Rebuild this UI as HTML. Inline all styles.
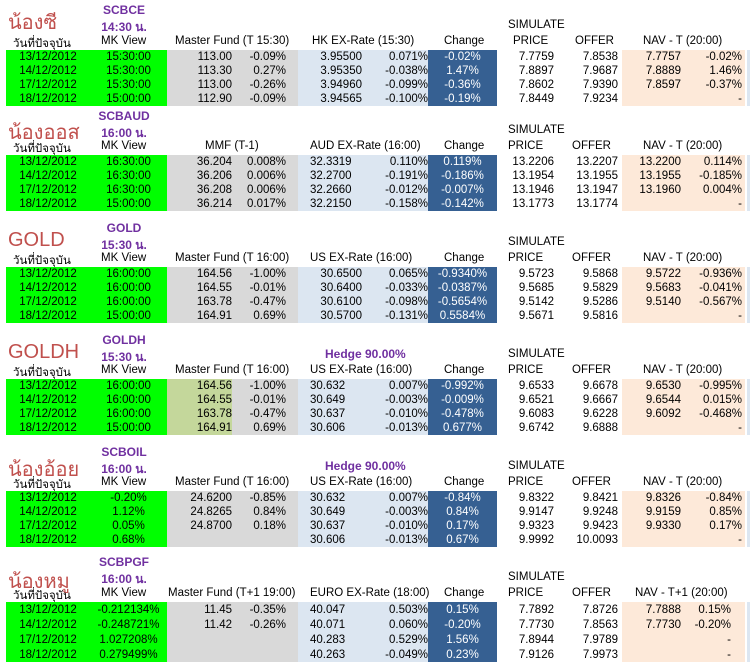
<!DOCTYPE html>
<html><head><meta charset="utf-8"><style>
body{margin:0;width:750px;height:668px;background:#fff;position:relative;overflow:hidden;font-family:"Liberation Sans","Noto Sans CJK SC",sans-serif;font-size:11.5px;color:#000}
.a{position:absolute;white-space:nowrap}
table{position:absolute;left:6px;border-collapse:collapse;table-layout:fixed;width:739px}
td{height:14px;line-height:14px;padding:0;white-space:nowrap;overflow:hidden}
.g{background:#00ff00;text-align:center}
.y{background:#d9d9d9;text-align:right}
.o{background:#c4d79b;text-align:right}
.l{background:#dce6f1;text-align:right}
.ll{background:#dce6f1;text-align:left;padding-left:12px}
.d{background:#366092;color:#fff;text-align:center}
.w{text-align:right}
.p{background:#fde9d9;text-align:right}
.t{color:#c0504d;font-size:20px;font-family:"Liberation Sans","Noto Sans CJK SC",sans-serif}
.c{color:#7030a0;font-weight:bold;font-size:12px;width:80px;text-align:center;left:84px}
.h{width:0}
.strip{position:absolute;left:747px;width:3px;background:#dce6f1}
</style></head><body>
<!-- S1 -->
<div class="a t" style="left:8px;top:6px">น้องซี</div>
<div class="a c" style="top:3px">SCBCE</div>
<div class="a c" style="top:18px">14:30 น.</div>
<div class="a" style="left:508px;top:19px">SIMULATE</div>
<div class="a" style="left:13px;top:35px">วันที่ปัจจุบัน</div>
<div class="a" style="left:101px;top:35px">MK View</div>
<div class="a" style="left:175px;top:35px">Master Fund (T 15:30)</div>
<div class="a" style="left:312px;top:35px">HK EX-Rate (15:30)</div>
<div class="a" style="left:444px;top:35px">Change</div>
<div class="a" style="left:513px;top:35px">PRICE</div>
<div class="a" style="left:575px;top:35px">OFFER</div>
<div class="a" style="left:643px;top:35px">NAV - T (20:00)</div>
<table style="top:50px"><colgroup><col style="width:84px"><col style="width:77px"><col style="width:65px"><col style="width:66px"><col style="width:64px"><col style="width:66px"><col style="width:69px"><col style="width:57px"><col style="width:68px"><col style="width:59px"><col style="width:64px"></colgroup>
<tr><td class="g">13/12/2012</td><td class="g">15:30:00</td><td class="y">113.00</td><td class="y" style="padding-right:12px">-0.09%</td><td class="l">3.95500</td><td class="l">0.071%</td><td class="d">-0.02%</td><td class="w">7.7759</td><td class="w" style="padding-right:4px">7.8538</td><td class="p">7.7757</td><td class="p" style="padding-right:3px">-0.02%</td></tr>
<tr><td class="g">14/12/2012</td><td class="g">15:30:00</td><td class="y">113.30</td><td class="y" style="padding-right:12px">0.27%</td><td class="l">3.95350</td><td class="l">-0.038%</td><td class="d">1.47%</td><td class="w">7.8897</td><td class="w" style="padding-right:4px">7.9687</td><td class="p">7.8889</td><td class="p" style="padding-right:3px">1.46%</td></tr>
<tr><td class="g">17/12/2012</td><td class="g">15:30:00</td><td class="y">113.00</td><td class="y" style="padding-right:12px">-0.26%</td><td class="l">3.94960</td><td class="l">-0.099%</td><td class="d">-0.36%</td><td class="w">7.8602</td><td class="w" style="padding-right:4px">7.9390</td><td class="p">7.8597</td><td class="p" style="padding-right:3px">-0.37%</td></tr>
<tr><td class="g">18/12/2012</td><td class="g">15:00:00</td><td class="y">112.90</td><td class="y" style="padding-right:12px">-0.09%</td><td class="l">3.94565</td><td class="l">-0.100%</td><td class="d">-0.19%</td><td class="w">7.8449</td><td class="w" style="padding-right:4px">7.9234</td><td class="p"></td><td class="p" style="padding-right:3px">-</td></tr>
</table>
<div class="strip" style="top:50px;height:56px"></div>

<!-- S2 -->
<div class="a t" style="left:8px;top:116px">น้องออส</div>
<div class="a c" style="top:109px">SCBAUD</div>
<div class="a c" style="top:124px">16:00 น.</div>
<div class="a" style="left:508px;top:124px">SIMULATE</div>
<div class="a" style="left:13px;top:140px">วันที่ปัจจุบัน</div>
<div class="a" style="left:101px;top:140px">MK View</div>
<div class="a" style="left:205px;top:140px">MMF (T-1)</div>
<div class="a" style="left:310px;top:140px">AUD EX-Rate (16:00)</div>
<div class="a" style="left:444px;top:140px">Change</div>
<div class="a" style="left:508px;top:140px">PRICE</div>
<div class="a" style="left:572px;top:140px">OFFER</div>
<div class="a" style="left:643px;top:140px">NAV - T (20:00)</div>
<table style="top:155px"><colgroup><col style="width:84px"><col style="width:77px"><col style="width:65px"><col style="width:66px"><col style="width:64px"><col style="width:66px"><col style="width:69px"><col style="width:57px"><col style="width:68px"><col style="width:59px"><col style="width:64px"></colgroup>
<tr><td class="g">13/12/2012</td><td class="g">16:30:00</td><td class="y">36.204</td><td class="y" style="padding-right:12px">0.008%</td><td class="ll">32.3319</td><td class="l">0.110%</td><td class="d">0.119%</td><td class="w">13.2206</td><td class="w" style="padding-right:4px">13.2207</td><td class="p">13.2200</td><td class="p" style="padding-right:3px">0.114%</td></tr>
<tr><td class="g">14/12/2012</td><td class="g">16:30:00</td><td class="y">36.206</td><td class="y" style="padding-right:12px">0.006%</td><td class="ll">32.2700</td><td class="l">-0.191%</td><td class="d">-0.186%</td><td class="w">13.1954</td><td class="w" style="padding-right:4px">13.1955</td><td class="p">13.1955</td><td class="p" style="padding-right:3px">-0.185%</td></tr>
<tr><td class="g">17/12/2012</td><td class="g">16:30:00</td><td class="y">36.208</td><td class="y" style="padding-right:12px">0.006%</td><td class="ll">32.2660</td><td class="l">-0.012%</td><td class="d">-0.007%</td><td class="w">13.1946</td><td class="w" style="padding-right:4px">13.1947</td><td class="p">13.1960</td><td class="p" style="padding-right:3px">0.004%</td></tr>
<tr><td class="g">18/12/2012</td><td class="g">15:00:00</td><td class="y">36.214</td><td class="y" style="padding-right:12px">0.017%</td><td class="ll">32.2150</td><td class="l">-0.158%</td><td class="d">-0.142%</td><td class="w">13.1773</td><td class="w" style="padding-right:4px">13.1774</td><td class="p"></td><td class="p" style="padding-right:3px">-</td></tr>
</table>
<div class="strip" style="top:155px;height:56px"></div>

<!-- S3 -->
<div class="a t" style="left:8px;top:229px">GOLD</div>
<div class="a c" style="top:221px">GOLD</div>
<div class="a c" style="top:236px">15:30 น.</div>
<div class="a" style="left:508px;top:236px">SIMULATE</div>
<div class="a" style="left:13px;top:252px">วันที่ปัจจุบัน</div>
<div class="a" style="left:101px;top:252px">MK View</div>
<div class="a" style="left:175px;top:252px">Master Fund (T 16:00)</div>
<div class="a" style="left:310px;top:252px">US EX-Rate (16:00)</div>
<div class="a" style="left:444px;top:252px">Change</div>
<div class="a" style="left:508px;top:252px">PRICE</div>
<div class="a" style="left:572px;top:252px">OFFER</div>
<div class="a" style="left:643px;top:252px">NAV - T (20:00)</div>
<table style="top:267px"><colgroup><col style="width:84px"><col style="width:77px"><col style="width:65px"><col style="width:66px"><col style="width:64px"><col style="width:66px"><col style="width:69px"><col style="width:57px"><col style="width:68px"><col style="width:59px"><col style="width:64px"></colgroup>
<tr><td class="g">13/12/2012</td><td class="g">16:00:00</td><td class="y">164.56</td><td class="y" style="padding-right:12px">-1.00%</td><td class="l">30.6500</td><td class="l">0.065%</td><td class="d">-0.9340%</td><td class="w">9.5723</td><td class="w" style="padding-right:4px">9.5868</td><td class="p">9.5722</td><td class="p" style="padding-right:3px">-0.936%</td></tr>
<tr><td class="g">14/12/2012</td><td class="g">16:00:00</td><td class="y">164.55</td><td class="y" style="padding-right:12px">-0.01%</td><td class="l">30.6400</td><td class="l">-0.033%</td><td class="d">-0.0387%</td><td class="w">9.5685</td><td class="w" style="padding-right:4px">9.5829</td><td class="p">9.5683</td><td class="p" style="padding-right:3px">-0.041%</td></tr>
<tr><td class="g">17/12/2012</td><td class="g">16:00:00</td><td class="y">163.78</td><td class="y" style="padding-right:12px">-0.47%</td><td class="l">30.6100</td><td class="l">-0.098%</td><td class="d">-0.5654%</td><td class="w">9.5142</td><td class="w" style="padding-right:4px">9.5286</td><td class="p">9.5140</td><td class="p" style="padding-right:3px">-0.567%</td></tr>
<tr><td class="g">18/12/2012</td><td class="g">15:00:00</td><td class="y">164.91</td><td class="y" style="padding-right:12px">0.69%</td><td class="l">30.5700</td><td class="l">-0.131%</td><td class="d">0.5584%</td><td class="w">9.5671</td><td class="w" style="padding-right:4px">9.5816</td><td class="p"></td><td class="p" style="padding-right:3px">-</td></tr>
</table>
<div class="strip" style="top:267px;height:56px"></div>

<!-- S4 -->
<div class="a t" style="left:8px;top:341px">GOLDH</div>
<div class="a c" style="top:333px">GOLDH</div>
<div class="a c" style="top:348px">15:30 น.</div>
<div class="a" style="left:325px;top:347px;color:#7030a0;font-weight:bold;font-size:12px">Hedge 90.00%</div>
<div class="a" style="left:508px;top:348px">SIMULATE</div>
<div class="a" style="left:13px;top:364px">วันที่ปัจจุบัน</div>
<div class="a" style="left:101px;top:364px">MK View</div>
<div class="a" style="left:175px;top:364px">Master Fund (T 16:00)</div>
<div class="a" style="left:310px;top:364px">US EX-Rate (16:00)</div>
<div class="a" style="left:444px;top:364px">Change</div>
<div class="a" style="left:508px;top:364px">PRICE</div>
<div class="a" style="left:572px;top:364px">OFFER</div>
<div class="a" style="left:643px;top:364px">NAV - T (20:00)</div>
<table style="top:379px"><colgroup><col style="width:84px"><col style="width:77px"><col style="width:65px"><col style="width:66px"><col style="width:64px"><col style="width:66px"><col style="width:69px"><col style="width:57px"><col style="width:68px"><col style="width:59px"><col style="width:64px"></colgroup>
<tr><td class="g">13/12/2012</td><td class="g">16:00:00</td><td class="o">164.56</td><td class="y" style="padding-right:12px">-1.00%</td><td class="ll">30.632</td><td class="l">0.007%</td><td class="d">-0.992%</td><td class="w">9.6533</td><td class="w" style="padding-right:4px">9.6678</td><td class="p">9.6530</td><td class="p" style="padding-right:3px">-0.995%</td></tr>
<tr><td class="g">14/12/2012</td><td class="g">16:00:00</td><td class="o">164.55</td><td class="y" style="padding-right:12px">-0.01%</td><td class="ll">30.649</td><td class="l">-0.003%</td><td class="d">-0.009%</td><td class="w">9.6521</td><td class="w" style="padding-right:4px">9.6667</td><td class="p">9.6544</td><td class="p" style="padding-right:3px">0.015%</td></tr>
<tr><td class="g">17/12/2012</td><td class="g">16:00:00</td><td class="o">163.78</td><td class="y" style="padding-right:12px">-0.47%</td><td class="ll">30.637</td><td class="l">-0.010%</td><td class="d">-0.478%</td><td class="w">9.6083</td><td class="w" style="padding-right:4px">9.6228</td><td class="p">9.6092</td><td class="p" style="padding-right:3px">-0.468%</td></tr>
<tr><td class="g">18/12/2012</td><td class="g">15:00:00</td><td class="o">164.91</td><td class="y" style="padding-right:12px">0.69%</td><td class="ll">30.606</td><td class="l">-0.013%</td><td class="d">0.677%</td><td class="w">9.6742</td><td class="w" style="padding-right:4px">9.6888</td><td class="p"></td><td class="p" style="padding-right:3px">-</td></tr>
</table>
<div class="strip" style="top:379px;height:56px"></div>

<!-- S5 -->
<div class="a t" style="left:8px;top:453px">น้องอ้อย</div>
<div class="a c" style="top:445px">SCBOIL</div>
<div class="a c" style="top:460px">16:00 น.</div>
<div class="a" style="left:325px;top:459px;color:#7030a0;font-weight:bold;font-size:12px">Hedge 90.00%</div>
<div class="a" style="left:508px;top:460px">SIMULATE</div>
<div class="a" style="left:13px;top:476px">วันที่ปัจจุบัน</div>
<div class="a" style="left:101px;top:476px">MK View</div>
<div class="a" style="left:175px;top:476px">Master Fund (T 16:00)</div>
<div class="a" style="left:310px;top:476px">US EX-Rate (16:00)</div>
<div class="a" style="left:444px;top:476px">Change</div>
<div class="a" style="left:508px;top:476px">PRICE</div>
<div class="a" style="left:572px;top:476px">OFFER</div>
<div class="a" style="left:643px;top:476px">NAV - T (20:00)</div>
<table style="top:491px"><colgroup><col style="width:84px"><col style="width:77px"><col style="width:65px"><col style="width:66px"><col style="width:64px"><col style="width:66px"><col style="width:69px"><col style="width:57px"><col style="width:68px"><col style="width:59px"><col style="width:64px"></colgroup>
<tr><td class="g">13/12/2012</td><td class="g">-0.20%</td><td class="y">24.6200</td><td class="y" style="padding-right:12px">-0.85%</td><td class="ll">30.632</td><td class="l">0.007%</td><td class="d">-0.84%</td><td class="w">9.8322</td><td class="w" style="padding-right:4px">9.8421</td><td class="p">9.8326</td><td class="p" style="padding-right:3px">-0.84%</td></tr>
<tr><td class="g">14/12/2012</td><td class="g">1.12%</td><td class="y">24.8265</td><td class="y" style="padding-right:12px">0.84%</td><td class="ll">30.649</td><td class="l">-0.003%</td><td class="d">0.84%</td><td class="w">9.9147</td><td class="w" style="padding-right:4px">9.9248</td><td class="p">9.9159</td><td class="p" style="padding-right:3px">0.85%</td></tr>
<tr><td class="g">17/12/2012</td><td class="g">0.05%</td><td class="y">24.8700</td><td class="y" style="padding-right:12px">0.18%</td><td class="ll">30.637</td><td class="l">-0.010%</td><td class="d">0.17%</td><td class="w">9.9323</td><td class="w" style="padding-right:4px">9.9423</td><td class="p">9.9330</td><td class="p" style="padding-right:3px">0.17%</td></tr>
<tr><td class="g">18/12/2012</td><td class="g">0.68%</td><td class="y"></td><td class="y"></td><td class="ll">30.606</td><td class="l">-0.013%</td><td class="d">0.67%</td><td class="w">9.9992</td><td class="w" style="padding-right:4px">10.0093</td><td class="p"></td><td class="p" style="padding-right:3px">-</td></tr>
</table>
<div class="strip" style="top:491px;height:56px"></div>

<!-- S6 -->
<div class="a t" style="left:8px;top:565px">น้องหมู</div>
<div class="a c" style="top:555px">SCBPGF</div>
<div class="a c" style="top:570px">16:00 น.</div>
<div class="a" style="left:508px;top:571px">SIMULATE</div>
<div class="a" style="left:13px;top:587px">วันที่ปัจจุบัน</div>
<div class="a" style="left:101px;top:587px">MK View</div>
<div class="a" style="left:168px;top:587px">Master Fund (T+1 19:00)</div>
<div class="a" style="left:310px;top:587px">EURO EX-Rate (18:00)</div>
<div class="a" style="left:444px;top:587px">Change</div>
<div class="a" style="left:508px;top:587px">PRICE</div>
<div class="a" style="left:572px;top:587px">OFFER</div>
<div class="a" style="left:635px;top:587px">NAV - T+1 (20:00)</div>
<table style="top:602px"><colgroup><col style="width:84px"><col style="width:77px"><col style="width:65px"><col style="width:66px"><col style="width:64px"><col style="width:66px"><col style="width:69px"><col style="width:57px"><col style="width:68px"><col style="width:59px"><col style="width:64px"></colgroup>
<tr style="height:15px"><td class="g">13/12/2012</td><td class="g">-0.212134%</td><td class="y">11.45</td><td class="y" style="padding-right:12px">-0.35%</td><td class="ll">40.047</td><td class="l">0.503%</td><td class="d">0.15%</td><td class="w">7.7892</td><td class="w" style="padding-right:4px">7.8726</td><td class="p">7.7888</td><td class="p" style="padding-right:14px">0.15%</td></tr>
<tr style="height:15px"><td class="g">14/12/2012</td><td class="g">-0.248721%</td><td class="y">11.42</td><td class="y" style="padding-right:12px">-0.26%</td><td class="ll">40.071</td><td class="l">0.060%</td><td class="d">-0.20%</td><td class="w">7.7730</td><td class="w" style="padding-right:4px">7.8563</td><td class="p">7.7730</td><td class="p" style="padding-right:14px">-0.20%</td></tr>
<tr style="height:15px"><td class="g">17/12/2012</td><td class="g">1.027208%</td><td class="y"></td><td class="y"></td><td class="ll">40.283</td><td class="l">0.529%</td><td class="d">1.56%</td><td class="w">7.8944</td><td class="w" style="padding-right:4px">7.9789</td><td class="p"></td><td class="p" style="padding-right:14px">-</td></tr>
<tr style="height:15px"><td class="g">18/12/2012</td><td class="g">0.279499%</td><td class="y"></td><td class="y"></td><td class="ll">40.263</td><td class="l">-0.049%</td><td class="d">0.23%</td><td class="w">7.9126</td><td class="w" style="padding-right:4px">7.9973</td><td class="p"></td><td class="p" style="padding-right:14px">-</td></tr>
</table>
<div class="strip" style="top:602px;height:60px"></div>
</body></html>
